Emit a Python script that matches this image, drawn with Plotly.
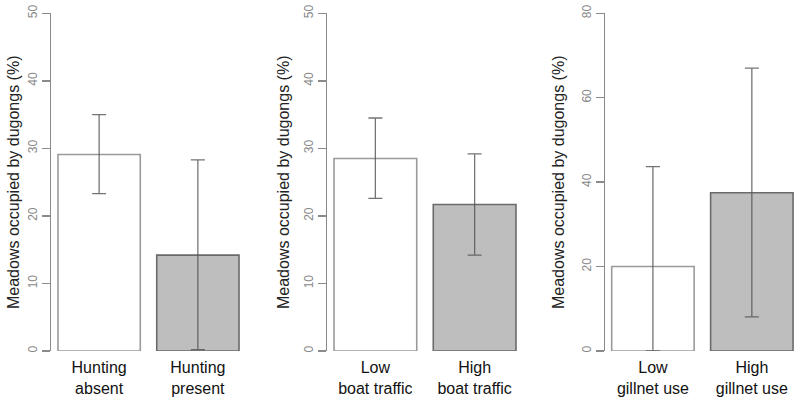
import plotly.graph_objects as go

# ---- data ----
labels_hunt = ["Hunting<br>absent", "Hunting<br>present"]
vals_hunt = [29.1, 14.2]
up_hunt = [35.0, 28.3]
lo_hunt = [23.3, 0.2]

labels_boat = ["Low<br>boat traffic", "High<br>boat traffic"]
vals_boat = [28.5, 21.7]
up_boat = [34.5, 29.2]
lo_boat = [22.6, 14.2]

labels_gill = ["Low<br>gillnet use", "High<br>gillnet use"]
vals_gill = [20.0, 37.5]
up_gill = [43.7, 67.0]
lo_gill = [0.0, 8.1]

yticks_12 = [0, 10, 20, 30, 40, 50]
yticks_3 = [0, 20, 40, 60, 80]

bar_pos = [0.7, 1.9]
fills = ["white", "#bebebe"]
outlines = ["#9a9a9a", "#6a6a6a"]

W, H = 798, 401

panels = [
    (labels_hunt, vals_hunt, up_hunt, lo_hunt, yticks_12, [51.4, 245.6], [0.12, 2.48], 13),
    (labels_boat, vals_boat, up_boat, lo_boat, yticks_12, [327.4, 522.6], [0.12, 2.48], 283),
    (labels_gill, vals_gill, up_gill, lo_gill, yticks_3, [605.1, 798.0], [0.12, 2.46], 558),
]

fig = go.Figure()
ydom = [(H - 351) / H, (H - 13.3) / H]
annotations = []
for i, (labs, vals, ups, los, yt, xd, xr, tx) in enumerate(panels, start=1):
    xa = "x" if i == 1 else f"x{i}"
    ya = "y" if i == 1 else f"y{i}"
    fig.add_trace(go.Bar(
        x=bar_pos, y=vals, width=1.0,
        marker=dict(color=fills, line=dict(color=outlines, width=1.6)),
        error_y=dict(type="data", symmetric=False,
                     array=[u - v for u, v in zip(ups, vals)],
                     arrayminus=[v - l for v, l in zip(vals, los)],
                     color="rgba(80,80,80,0.8)", thickness=1.3, width=7),
        xaxis=xa, yaxis=ya, showlegend=False, hoverinfo="skip",
    ))
    common_x = dict(domain=[xd[0] / W, xd[1] / W], range=xr, anchor=ya,
                    tickvals=bar_pos, ticktext=labs, showline=False, ticks="",
                    showgrid=False, zeroline=False, automargin=False,
                    ticklabelstandoff=5,
                    tickfont=dict(family="Liberation Sans, Arial", size=16, color="#111"))
    common_y = dict(domain=ydom, range=[0, yt[-1]], anchor=xa, tickvals=yt,
                    showline=True, linecolor="#8a8a8a", linewidth=1.5,
                    ticks="outside", ticklen=8, tickwidth=1.5, tickcolor="#8a8a8a",
                    tickangle=-90, showgrid=False, zeroline=False, automargin=False,
                    tickfont=dict(family="Liberation Sans, Arial", size=12, color="#888"))
    fig.update_layout(**{("xaxis" if i == 1 else f"xaxis{i}"): common_x,
                         ("yaxis" if i == 1 else f"yaxis{i}"): common_y})
    annotations.append(dict(text="Meadows occupied by dugongs (%)", textangle=-90,
                            x=tx / W, y=(H - 183) / H, xref="paper", yref="paper",
                            xanchor="center", yanchor="middle", showarrow=False,
                            font=dict(family="Liberation Sans, Arial", size=16, color="#222")))

fig.update_layout(width=W, height=H, margin=dict(l=0, r=0, t=0, b=0, autoexpand=False),
                  plot_bgcolor="white", paper_bgcolor="white",
                  annotations=annotations, bargap=0)
fig.write_html("out.html", config={"displayModeBar": False, "staticPlot": True},
               post_script="document.body.style.margin='0';document.body.style.overflow='hidden';")
